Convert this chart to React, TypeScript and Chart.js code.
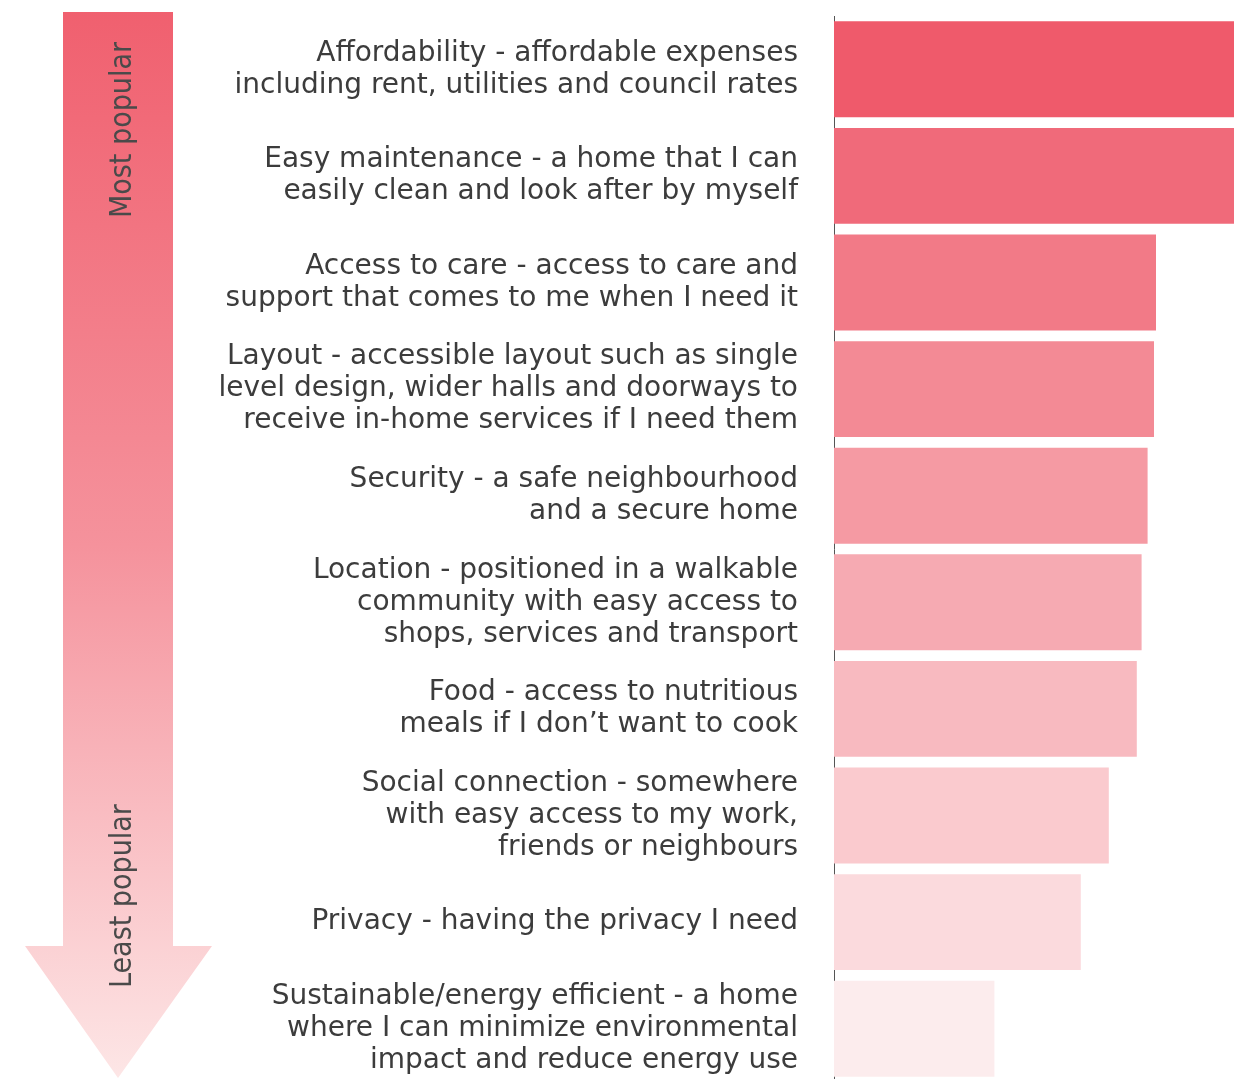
import React, { useEffect, useRef } from "react";
import { Chart, registerables } from "chart.js";

Chart.register(...registerables);

const categories: string[][] = [
  ["Affordability - affordable expenses", "including rent, utilities and council rates"],
  ["Easy maintenance - a home that I can", "easily clean and look after by myself"],
  ["Access to care - access to care and", "support that comes to me when I need it"],
  ["Layout - accessible layout such as single", "level design, wider halls and doorways to", "receive in-home services if I need them"],
  ["Security - a safe neighbourhood", "and a secure home"],
  ["Location - positioned in a walkable", "community with easy access to", "shops, services and transport"],
  ["Food - access to nutritious", "meals if I don\u2019t want to cook"],
  ["Social connection - somewhere", "with easy access to my work,", "friends or neighbours"],
  ["Privacy - having the privacy I need"],
  ["Sustainable/energy efficient - a home", "where I can minimize environmental", "impact and reduce energy use"],
];

const popularity: number[] = [100, 100, 80.5, 80, 78.4, 76.9, 75.7, 68.7, 61.7, 40.1];

const barColors: string[] = [
  "#EF5A6B",
  "#F06A7A",
  "#F27A87",
  "#F38A95",
  "#F59AA3",
  "#F6AAB2",
  "#F8BAC0",
  "#FACACE",
  "#FBDADD",
  "#FCECED",
];

const arrowLabels: string[] = ["Most popular", "Least popular"];

const arrowPlugin = {
  id: "popularityArrow",
  beforeDraw(chart: any) {
    const ctx = chart.ctx as CanvasRenderingContext2D;
    ctx.save();
    const g = ctx.createLinearGradient(0, 12, 0, 1078);
    g.addColorStop(0, "#F0606F");
    g.addColorStop(0.5, "#F5929C");
    g.addColorStop(1, "#FDE6E6");
    ctx.fillStyle = g;
    ctx.beginPath();
    ctx.moveTo(63, 12);
    ctx.lineTo(173, 12);
    ctx.lineTo(173, 946);
    ctx.lineTo(212, 946);
    ctx.lineTo(118, 1078);
    ctx.lineTo(25, 946);
    ctx.lineTo(63, 946);
    ctx.closePath();
    ctx.fill();

    ctx.fillStyle = "#4a4a4a";
    ctx.font = "30px 'DejaVu Sans Condensed', 'Noto Sans', sans-serif";
    ctx.textAlign = "left";
    ctx.textBaseline = "middle";
    ctx.save();
    ctx.translate(123, 218);
    ctx.rotate(-Math.PI / 2);
    ctx.fillText(arrowLabels[0], 0, 0);
    ctx.restore();
    ctx.save();
    ctx.translate(123, 988);
    ctx.rotate(-Math.PI / 2);
    ctx.fillText(arrowLabels[1], 0, 0);
    ctx.restore();
    ctx.restore();
  },
};

export default function App() {
  const canvasRef = useRef<HTMLCanvasElement | null>(null);

  useEffect(() => {
    if (!canvasRef.current) return;
    const chart = new Chart(canvasRef.current, {
      type: "bar",
      data: {
        labels: categories,
        datasets: [
          {
            data: popularity,
            backgroundColor: barColors,
            borderWidth: 0,
            barPercentage: 0.9,
            categoryPercentage: 1,
          },
        ],
      },
      options: {
        indexAxis: "y",
        animation: false,
        responsive: false,
        maintainAspectRatio: false,
        layout: { padding: { top: 16, bottom: 8, left: 0, right: 15 } },
        plugins: {
          legend: { display: false },
          tooltip: { enabled: false },
        },
        scales: {
          x: {
            display: false,
            min: 0,
            max: 100,
          },
          y: {
            grid: { display: false, drawTicks: false },
            border: { display: true, color: "#555555", width: 1 },
            ticks: {
              padding: 36,
              color: "#3c3c3c",
              font: { family: "'DejaVu Sans', sans-serif", size: 28, lineHeight: "32px" as any },
              autoSkip: false,
            },
            afterFit(scale: any) {
              scale.width = 834;
              scale.paddingTop = 0;
              scale.paddingBottom = 0;
            },
          },
        },
      },
      plugins: [arrowPlugin],
    });
    return () => chart.destroy();
  }, []);

  return (
    <div
      style={{
        position: "fixed",
        left: 0,
        top: 0,
        width: 1249,
        height: 1079,
        overflow: "hidden",
        background: "#ffffff",
      }}
    >
      <canvas ref={canvasRef} width={1249} height={1090} style={{ display: "block" }} />
    </div>
  );
}
